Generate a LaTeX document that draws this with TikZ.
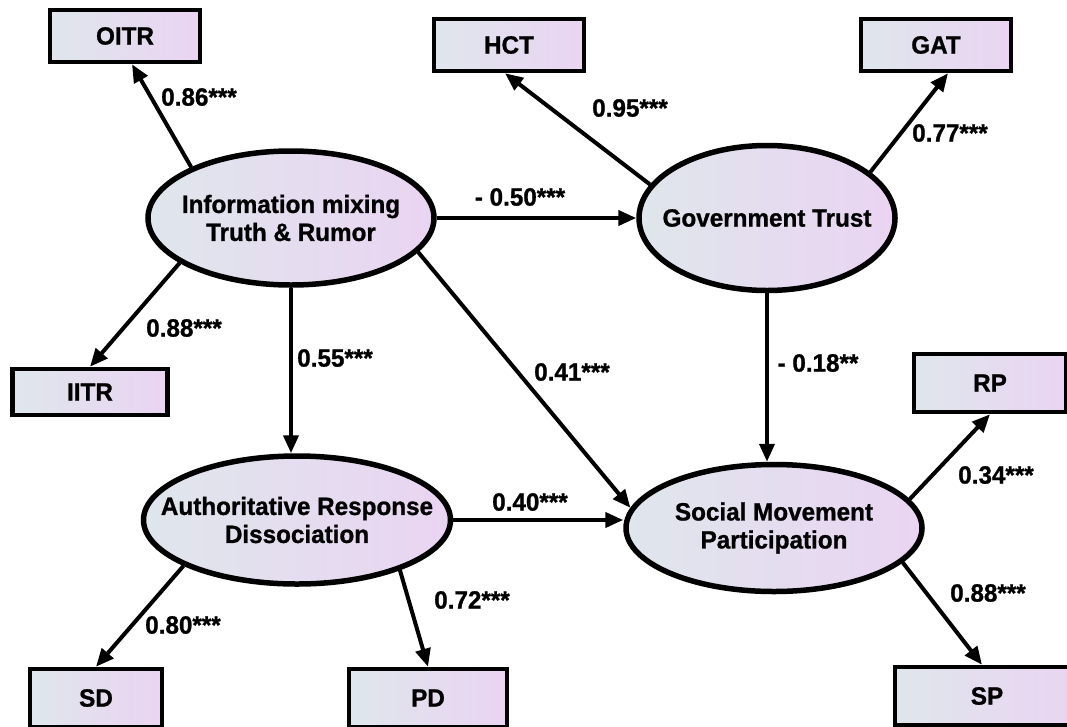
\documentclass[tikz,border=0pt]{standalone}
\usepackage{fontspec}
\newfontfamily\diagfont{Liberation Sans Bold}[FakeBold=1,FakeStretch=0.97]
\usetikzlibrary{shapes.geometric,arrows.meta,calc}
\definecolor{gL}{HTML}{DFE6EC}
\definecolor{gR}{HTML}{EAD4F2}
\begin{document}
\begin{tikzpicture}[x=1pt,y=-1pt,
  every node/.style={font=\fontsize{25}{28}\diagfont},
  latent/.style={ellipse,draw,line width=5.5pt,inner sep=0pt,left color=gL,right color=gR},
  ltext/.style={align=center,inner sep=0pt},
  manifest/.style={rectangle,draw,line width=4.5pt,inner sep=0pt,left color=gL,right color=gR},
  conn/.style={line width=4pt,-{Triangle[length=18pt,width=15pt]}},
  coef/.style={inner sep=0pt}]
\fill[white] (0,0) rectangle (1067,726);
\useasboundingbox (0,0) rectangle (1067,726);
% latent variables
\node[latent,minimum width=286pt,minimum height=134pt] (info) at (291,218) {};
\node[latent,minimum width=256pt,minimum height=145pt] (gov) at (767,218) {};
\node[latent,minimum width=307pt,minimum height=128pt] (ard) at (297,520) {};
\node[latent,minimum width=296pt,minimum height=127pt] (smp) at (774,528) {};
\node[ltext] (infot) at (info) {Information mixing\\Truth \& Rumor};
\node[ltext] (govt) at (gov) {Government Trust};
\node[ltext] (ardt) at (ard) {Authoritative Response\\Dissociation};
\node[ltext] (smpt) at (smp) {Social Movement\\Participation};
% manifest variables
\node[manifest,minimum width=150pt,minimum height=52pt] (oitr) at (125,36) {OITR};
\node[manifest,minimum width=150pt,minimum height=52pt] (hct) at (509,45) {HCT};
\node[manifest,minimum width=150pt,minimum height=52pt] (gat) at (936,45) {GAT};
\node[manifest,minimum width=155pt,minimum height=46pt] (iitr) at (90,392) {IITR};
\node[manifest,minimum width=152pt,minimum height=58pt] (rp) at (990,383) {RP};
\node[manifest,minimum width=132pt,minimum height=58pt] (sd) at (96,698) {SD};
\node[manifest,minimum width=158pt,minimum height=58pt] (pd) at (428,698) {PD};
\node[manifest,minimum width=184pt,minimum height=58pt] (sp) at (987,696) {SP};
% paths
\draw[conn] (info.153) -- ([xshift=7pt]oitr.south);
\draw[conn] (gov.164) -- ([xshift=-4pt]hct.south);
\draw[conn] (gov.24) -- ([xshift=12pt]gat.south);
\draw[conn] (info.east) -- (gov.west);
\draw[conn] (info.202) -- (iitr.north);
\draw[conn] (info.south) -- (info.south |- ard.north);
\draw[conn] (info.345) -- (smp.172);
\draw[conn] (gov.south) -- (gov.south |- smp.north);
\draw[conn] (ard.east) -- (smp.west |- ard.east);
\draw[conn] (smp.12) -- (rp.south);
\draw[conn] (smp.345) -- ([xshift=-5pt]sp.north);
\draw[conn] (ard.202) -- (sd.north);
\draw[conn] (ard.334) -- (pd.north);
% coefficients
\node[coef] (c1) at (199,97) {0.86***};
\node[coef] (c2) at (630,108) {0.95***};
\node[coef] (c3) at (950,133) {0.77***};
\node[coef] (c4) at (520,197) {- 0.50***};
\node[coef] (c5) at (184,328) {0.88***};
\node[coef] (c6) at (335,358) {0.55***};
\node[coef] (c7) at (572,372) {0.41***};
\node[coef] (c8) at (818,363) {- 0.18**};
\node[coef] (c9) at (530,502) {0.40***};
\node[coef] (c10) at (996,475) {0.34***};
\node[coef] (c11) at (988,593) {0.88***};
\node[coef] (c12) at (183,625) {0.80***};
\node[coef] (c13) at (472,600) {0.72***};
\end{tikzpicture}
\end{document}
